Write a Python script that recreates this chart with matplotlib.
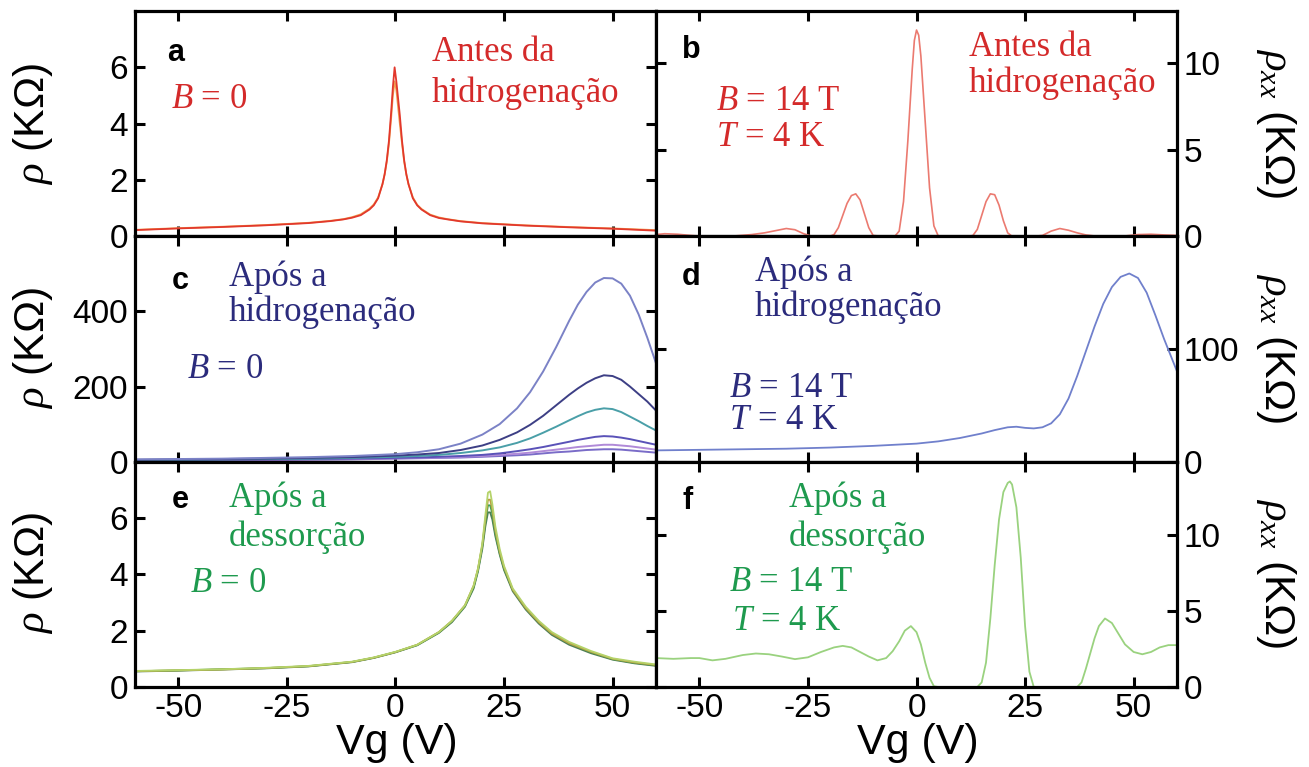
import matplotlib
matplotlib.use("Agg")
import matplotlib.pyplot as plt

plt.rcParams['font.family'] = ['Liberation Sans', 'DejaVu Sans']
plt.rcParams['mathtext.fontset'] = 'custom'
plt.rcParams['mathtext.rm'] = 'Liberation Serif'
plt.rcParams['mathtext.it'] = 'Liberation Serif:italic'
plt.rcParams['axes.unicode_minus'] = False

# ---- dados ----
# a: antes da hidrogenacao, B = 0
a_vg = [-60, -50, -40, -30, -25, -20, -15, -12, -10, -8, -6, -5, -4, -3, -2.5, -2, -1.5, -1, -0.6, -0.2,
        0.2, 0.6, 1, 1.5, 2, 2.5, 3, 4, 5, 6, 8, 10, 12, 15, 20, 25, 30, 40, 50, 60]
a_vermelho = [0.22, 0.28, 0.33, 0.39, 0.43, 0.47, 0.54, 0.6, 0.66, 0.75, 0.95, 1.1, 1.35, 1.85, 2.2, 2.7, 3.4, 4.4, 5.3, 6.0,
              5.5, 4.9, 4.3, 3.4, 2.7, 2.2, 1.85, 1.35, 1.1, 0.95, 0.75, 0.65, 0.6, 0.53, 0.46, 0.42, 0.38, 0.32, 0.27, 0.2]
a_laranja = [0.23, 0.29, 0.34, 0.4, 0.44, 0.48, 0.55, 0.61, 0.68, 0.78, 0.98, 1.13, 1.38, 1.85, 2.2, 2.65, 3.3, 4.2, 5.0, 5.5,
             5.2, 4.6, 4.0, 3.3, 2.65, 2.2, 1.85, 1.38, 1.12, 0.97, 0.77, 0.67, 0.61, 0.54, 0.47, 0.43, 0.39, 0.33, 0.28, 0.22]

# b: antes da hidrogenacao, B = 14 T
b_vg = [-60, -58, -55, -52, -49, -46, -42, -38, -35, -32, -30, -28, -26, -24, -22, -20, -19, -18, -17, -16,
        -15, -14, -13, -12, -11, -10, -8, -6, -5, -4, -3, -2, -1, -0.5, 0, 0.5, 1, 2, 3, 4,
        5, 6, 8, 10, 12, 13, 14, 15, 16, 17, 18, 19, 20, 21, 22, 24, 27, 29, 31, 33,
        35, 37, 39, 41, 44, 48, 51, 54, 57, 60]
b_rxx = [0.1, 0.15, 0.12, 0.05, 0.0, 0.0, 0.02, 0.1, 0.2, 0.35, 0.45, 0.38, 0.15, 0.0, 0.0, 0.0, 0.1, 0.5, 1.2, 1.9,
         2.35, 2.45, 2.1, 1.3, 0.5, 0.05, 0.0, 0.0, 0.0, 0.3, 2.0, 5.5, 9.6, 11.3, 11.9, 11.6, 10.4, 6.6, 2.8, 0.6,
         0.02, 0.0, 0.0, 0.0, 0.0, 0.05, 0.4, 1.2, 2.0, 2.45, 2.4, 1.8, 0.9, 0.2, 0.0, 0.0, 0.0, 0.05, 0.3, 0.45,
         0.35, 0.2, 0.08, 0.02, 0.0, 0.02, 0.1, 0.12, 0.08, 0.05]

# c: apos a hidrogenacao, B = 0 (varias curvas)
c_vg = [-60, -50, -40, -30, -20, -10, 0, 5, 10, 15, 20, 24, 28, 31, 34, 37, 40, 42, 44, 46, 48, 50, 52, 54, 56, 58, 60]
c_curva1 = [6, 7, 8, 10, 12, 15, 20, 25, 33, 48, 72, 100, 142, 185, 240, 305, 375, 418, 452, 477, 489, 488, 474, 442, 392, 330, 262]
c_curva2 = [5, 6, 7, 8, 10, 12, 16, 19, 23, 31, 43, 58, 78, 98, 122, 150, 178, 195, 210, 222, 230, 228, 218, 200, 180, 160, 136]
c_curva3 = [4, 5, 6, 7, 8, 10, 13, 15, 18, 23, 30, 38, 50, 62, 77, 93, 110, 121, 131, 138, 142, 140, 132, 120, 108, 95, 83]
c_curva4 = [4, 4, 5, 6, 7, 8, 10, 11, 13, 15, 18, 22, 28, 33, 39, 46, 53, 58, 62, 66, 68, 67, 64, 60, 55, 50, 45]
c_curva5 = [3, 4, 4, 5, 6, 7, 9, 10, 11, 13, 15, 18, 21, 24, 28, 32, 36, 39, 41, 43, 45, 45, 43, 41, 38, 35, 32]
c_curva6 = [3, 3, 4, 4, 5, 6, 8, 9, 10, 11, 13, 15, 17, 19, 22, 25, 27, 29, 31, 32, 33, 33, 32, 30, 28, 26, 24]

# d: apos a hidrogenacao, B = 14 T
d_vg = [-60, -50, -40, -30, -20, -10, 0, 5, 10, 15, 18, 21, 23, 25, 27, 29, 31, 33, 35, 37,
        39, 41, 43, 45, 47, 49, 51, 53, 55, 57, 60]
d_rxx = [10, 10.5, 11, 11.5, 12.5, 14, 16, 18, 21, 25, 28, 30.5, 31, 30, 29.5, 30.5, 34, 42, 56, 76,
         98, 120, 140, 155, 164, 167, 163, 150, 130, 109, 80]

# e: apos a dessorcao, B = 0
e_vg = [-60, -50, -40, -30, -20, -10, -5, 0, 5, 10, 13, 16, 18, 19, 20, 20.7, 21.3, 21.8, 22.3, 23,
        24, 25, 27, 30, 33, 36, 40, 45, 50, 55, 60]
e_curva1 = [0.57, 0.6, 0.63, 0.68, 0.75, 0.9, 1.05, 1.25, 1.5, 1.95, 2.35, 2.9, 3.6, 4.2, 5.1, 6.1, 6.9, 6.95, 6.5, 5.7,
            4.9, 4.3, 3.5, 2.85, 2.35, 1.95, 1.6, 1.28, 1.02, 0.9, 0.8]
e_curva2 = [0.56, 0.59, 0.62, 0.67, 0.74, 0.89, 1.04, 1.24, 1.5, 1.95, 2.35, 2.9, 3.6, 4.2, 5.05, 5.95, 6.65, 6.65, 6.3, 5.55,
            4.8, 4.25, 3.45, 2.8, 2.3, 1.9, 1.55, 1.25, 1.0, 0.87, 0.78]
e_curva3 = [0.55, 0.58, 0.62, 0.66, 0.73, 0.88, 1.03, 1.23, 1.48, 1.92, 2.3, 2.85, 3.5, 4.1, 4.9, 5.7, 6.2, 6.2, 5.95, 5.35,
            4.7, 4.15, 3.4, 2.75, 2.25, 1.85, 1.5, 1.2, 0.97, 0.84, 0.75]
e_curva4 = [0.56, 0.59, 0.63, 0.67, 0.74, 0.89, 1.04, 1.24, 1.49, 1.94, 2.33, 2.88, 3.55, 4.15, 5.0, 5.85, 6.45, 6.45, 6.15, 5.45,
            4.75, 4.2, 3.45, 2.8, 2.3, 1.9, 1.55, 1.24, 0.99, 0.86, 0.77]

# f: apos a dessorcao, B = 14 T
f_vg = [-60, -56, -52, -50, -47, -44, -40, -37, -34, -31, -28, -25, -22, -19, -17, -15, -13, -11, -9, -7,
        -5.5, -4, -2.7, -1.3, 0, 1, 2, 3, 4, 5, 10, 14, 15, 16, 17, 18, 19, 20, 21, 21.5,
        22, 23, 24, 25, 26, 27, 32, 37, 38, 39, 40, 41, 42, 43.4, 45, 46.5, 48, 50, 52, 54,
        56, 58, 60]
f_rxx = [1.9, 1.85, 1.9, 1.9, 1.75, 1.85, 2.1, 2.2, 2.15, 2.0, 1.83, 1.95, 2.3, 2.6, 2.7, 2.6, 2.3, 2.0, 1.75, 1.9,
         2.35, 3.0, 3.7, 4.0, 3.6, 2.8, 1.6, 0.6, 0.05, 0.0, 0.0, 0.0, 0.3, 1.6, 4.5, 8.0, 11.0, 12.8, 13.4, 13.5,
         13.3, 11.8, 8.5, 4.0, 1.0, 0.0, 0.0, 0.0, 0.3, 1.2, 2.2, 3.2, 4.0, 4.5, 4.2, 3.5, 2.8, 2.3, 2.15, 2.3,
         2.6, 2.75, 2.75]

xticks = [-50, -25, 0, 25, 50]

vermelho = '#d42a2a'
azul = '#2b2b7c'
verde = '#1e9a4e'

fig = plt.figure(figsize=(13.09, 7.67), dpi=100)
gs = fig.add_gridspec(3, 2, left=0.1031, right=0.8992, top=0.9857, bottom=0.1043, hspace=0, wspace=0)
axs = [[fig.add_subplot(gs[i, j]) for j in range(2)] for i in range(3)]

ylims = [[8, 13], [600, 200], [8, 14.8]]
yticks = [[[0, 2, 4, 6], [0, 5, 10]], [[0, 200, 400], [0, 100]], [[0, 2, 4, 6], [0, 5, 10]]]

for i in range(3):
    for j in range(2):
        ax = axs[i][j]
        ax.set_xlim(-60, 60)
        ax.set_ylim(0, ylims[i][j])
        ax.set_xticks(xticks)
        ax.set_yticks(yticks[i][j])
        for s in ax.spines.values():
            s.set_linewidth(2.3)
        ax.tick_params(which='both', direction='in', length=7, width=2.2, labelsize=24,
                       top=True, bottom=True, left=True, right=True, pad=5)
        ax.tick_params(axis='x', labelbottom=(i == 2), pad=4)
        if j == 1:
            ax.tick_params(axis='y', labelleft=False, labelright=True)

# curvas
ax = axs[0][0]
ax.plot(a_vg, a_laranja, color='#f0a050', lw=1.3)
ax.plot(a_vg, a_vermelho, color='#e2382c', lw=1.3)

axs[0][1].plot(b_vg, b_rxx, color='#eb7a70', lw=1.2)

ax = axs[1][0]
for vals, cor in [(c_curva6, '#7a6cc8'), (c_curva5, '#b08ad8'), (c_curva4, '#5a52b8'),
                  (c_curva3, '#4a9fa8'), (c_curva2, '#3d3f85'), (c_curva1, '#7b82c6')]:
    ax.plot(c_vg, vals, color=cor, lw=1.4)

axs[1][1].plot(d_vg, d_rxx, color='#7080cc', lw=1.3)

ax = axs[2][0]
for vals, cor in [(e_curva3, '#4f7d55'), (e_curva4, '#3ea055'), (e_curva2, '#b8a040'), (e_curva1, '#b5d36a')]:
    ax.plot(e_vg, vals, color=cor, lw=1.3)

axs[2][1].plot(f_vg, f_rxx, color='#9ad27f', lw=1.3)

# textos
def letra(ax, fx, fy, s):
    ax.text(fx, fy, s, transform=ax.transAxes, fontsize=22, fontweight='bold', va='baseline', ha='left')

def nota(ax, fx, fy, s, cor):
    ax.text(fx, fy, s, transform=ax.transAxes, fontsize=25, family='Liberation Serif',
            color=cor, va='baseline', ha='left')

ax = axs[0][0]
letra(ax, 0.062, 0.778, 'a')
nota(ax, 0.07, 0.569, r'$B$ = 0', vermelho)
nota(ax, 0.57, 0.778, 'Antes da', vermelho)
nota(ax, 0.57, 0.596, 'hidrogenação', vermelho)

ax = axs[0][1]
letra(ax, 0.05, 0.79, 'b')
nota(ax, 0.60, 0.80, 'Antes da', vermelho)
nota(ax, 0.60, 0.64, 'hidrogenação', vermelho)
nota(ax, 0.115, 0.56, r'$B$ = 14 T', vermelho)
nota(ax, 0.115, 0.40, r'$T$ = 4 K', vermelho)

ax = axs[1][0]
letra(ax, 0.07, 0.765, 'c')
nota(ax, 0.18, 0.78, 'Após a', azul)
nota(ax, 0.18, 0.625, 'hidrogenação', azul)
nota(ax, 0.10, 0.37, r'$B$ = 0', azul)

ax = axs[1][1]
letra(ax, 0.05, 0.786, 'd')
nota(ax, 0.19, 0.80, 'Após a', azul)
nota(ax, 0.19, 0.648, 'hidrogenação', azul)
nota(ax, 0.14, 0.286, r'$B$ = 14 T', azul)
nota(ax, 0.14, 0.143, r'$T$ = 4 K', azul)

ax = axs[2][0]
letra(ax, 0.07, 0.793, 'e')
nota(ax, 0.18, 0.797, 'Após a', verde)
nota(ax, 0.18, 0.626, 'dessorção', verde)
nota(ax, 0.105, 0.42, r'$B$ = 0', verde)

ax = axs[2][1]
letra(ax, 0.05, 0.79, 'f')
nota(ax, 0.255, 0.80, 'Após a', verde)
nota(ax, 0.255, 0.626, 'dessorção', verde)
nota(ax, 0.14, 0.425, r'$B$ = 14 T', verde)
nota(ax, 0.145, 0.255, r'$T$ = 4 K', verde)

# rotulos dos eixos
W, H = 1309, 767
centros = [123.5, 348, 573]
for yc in centros:
    fig.text(33 / W, 1 - yc / H, r'$\rho$ (KΩ)', rotation=90, ha='center', va='center', fontsize=31)
    fig.text(1276 / W, 1 - yc / H, r'$\rho_{xx}$ (KΩ)', rotation=270, ha='center', va='center', fontsize=31)
fig.text(397 / W, 1 - 743 / H, 'Vg (V)', ha='center', va='center', fontsize=31)
fig.text(918 / W, 1 - 743 / H, 'Vg (V)', ha='center', va='center', fontsize=31)

fig.savefig('out.png', dpi=100)
